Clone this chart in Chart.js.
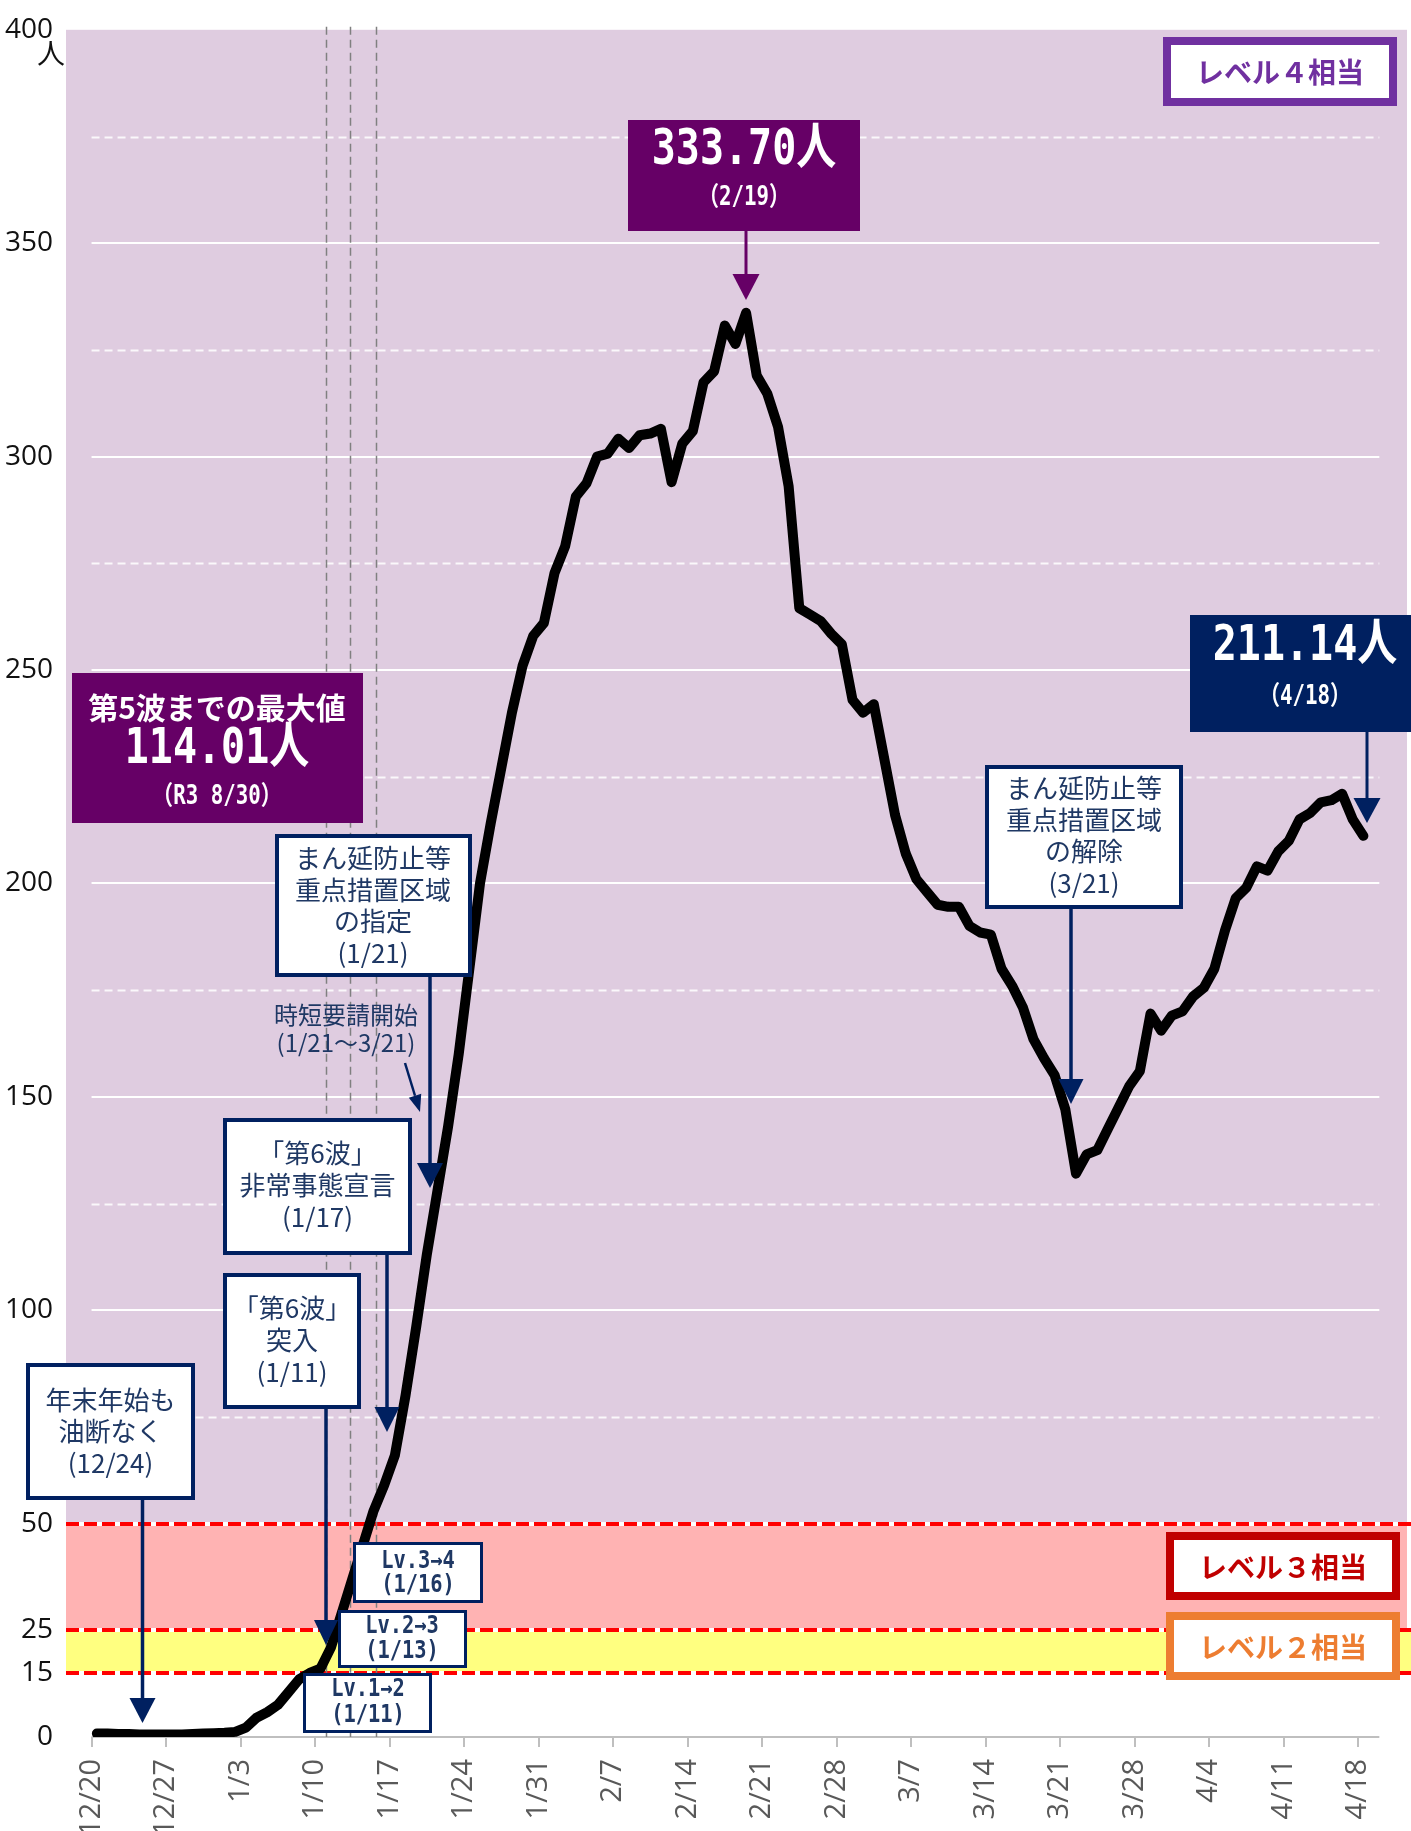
<!DOCTYPE html>
<html lang="ja">
<head>
<meta charset="utf-8">
<script src="https://cdn.jsdelivr.net/npm/chart.js@4.4.1/dist/chart.umd.min.js"></script>
<style>
  html, body { margin: 0; padding: 0; background: #fff; }
  canvas { display: block; }
</style>
</head>
<body>
<canvas id="c" width="1411" height="1831"></canvas>
<script>
// ---- Data (daily values from 12/20 to 4/18, one per day) ----
const startLabel = "12/20";
const tickLabels = ["12/20","12/27","1/3","1/10","1/17","1/24","1/31","2/7","2/14","2/21","2/28","3/7","3/14","3/21","3/28","4/4","4/11","4/18"];
const tickDayIndex = [0,7,14,21,28,35,42,49,56,63,70,77,84,91,98,105,112,119];
const values = [
  0.8,0.8,0.7,0.7,0.6,0.6,0.6,0.6,0.6,0.7,0.8,0.9,1.0,1.2,
  2.2,4.5,5.8,7.5,10.5,13.5,15.0,16.0,21.0,29.0,
  37.0,45.0,53.0,59.0,66.0,80,96,113,128,143,
  160,180,200,214,227,240,251,258,261,272.7,
  279,290.6,293.7,300,300.7,304.2,302,305,305.4,306.5,
  294,303,306,317.4,320,330.7,326.4,333.7,319,314.7,
  307,293,264.5,263,261.5,258.5,256,243,240,242,
  229,216,207,201,198,195,194.5,194.5,190,188.5,
  188,180,176,171,163.5,159,155,147,132,136.5,
  137.5,142.5,147.5,152.5,156,169.5,165.5,169,170,173.5,
  175.5,180,189,196.5,199,204,203,207.5,210,215,
  216.5,219,219.5,221,215,211.14
];
const yTickValues = [0,15,25,50,100,150,200,250,300,350,400];
const solidGrid = [50,100,150,200,250,300,350];
const dashedGrid = [25,75,125,175,225,275,325,375];
const levelLines = [15,25,50];
const levelChangeMarks = [22, 24.25, 26.75]; // 1/11, 1/13, 1/16 vertical guides

const X_MIN = -2.4, X_MAX = 123.6, AXIS_END = 121;

const points = values.map((v, i) => ({ x: i + 0.5, y: v }));

// ---- helpers ----
function txt(ctx, s, cx, cy, font, color, sx) {
  ctx.save();
  ctx.translate(cx, cy);
  ctx.scale(sx || 1, 1);
  ctx.font = font;
  ctx.fillStyle = color;
  ctx.textAlign = 'center';
  ctx.textBaseline = 'middle';
  ctx.fillText(s, 0, 0);
  ctx.restore();
}
function box(ctx, x0, y0, x1, y1, fill, stroke, lw) {
  ctx.save();
  ctx.fillStyle = fill;
  ctx.fillRect(x0, y0, x1 - x0, y1 - y0);
  if (stroke) {
    ctx.lineWidth = lw;
    ctx.strokeStyle = stroke;
    ctx.strokeRect(x0 + lw / 2, y0 + lw / 2, x1 - x0 - lw, y1 - y0 - lw);
  }
  ctx.restore();
}
function downArrow(ctx, x, y0, y1, color, lw, hw, hh) {
  ctx.save();
  ctx.strokeStyle = color; ctx.fillStyle = color; ctx.lineWidth = lw;
  ctx.beginPath(); ctx.moveTo(x, y0); ctx.lineTo(x, y1 - hh + 1); ctx.stroke();
  ctx.beginPath(); ctx.moveTo(x - hw / 2, y1 - hh); ctx.lineTo(x + hw / 2, y1 - hh); ctx.lineTo(x, y1); ctx.closePath(); ctx.fill();
  ctx.restore();
}
function slantArrow(ctx, x0, y0, x1, y1, color, lw, hw, hh) {
  ctx.save();
  const ang = Math.atan2(y1 - y0, x1 - x0);
  const bx = x1 - Math.cos(ang) * hh, by = y1 - Math.sin(ang) * hh;
  ctx.strokeStyle = color; ctx.fillStyle = color; ctx.lineWidth = lw;
  ctx.beginPath(); ctx.moveTo(x0, y0); ctx.lineTo(bx, by); ctx.stroke();
  const px = -Math.sin(ang) * hw / 2, py = Math.cos(ang) * hw / 2;
  ctx.beginPath(); ctx.moveTo(bx + px, by + py); ctx.lineTo(bx - px, by - py); ctx.lineTo(x1, y1); ctx.closePath(); ctx.fill();
  ctx.restore();
}

const NAVY = '#002060';
const NAVY_TXT = '#1F3864';
const PURPLE_BOX = '#660066';
const JP = "'Noto Sans CJK JP', 'Noto Sans', sans-serif";
const MONO = "'DejaVu Sans Mono', 'Noto Sans CJK JP', monospace";

// ---- background plugin: bands, grid, level lines ----
const bgPlugin = {
  id: 'bg',
  beforeDatasetsDraw(chart) {
    const { ctx, chartArea: a, scales: { x, y } } = chart;
    const W = chart.width;
    ctx.save();
    const band = (v0, v1, color, right) => {
      const t = y.getPixelForValue(v1), b = y.getPixelForValue(v0);
      ctx.fillStyle = color;
      ctx.fillRect(a.left, t, right - a.left, b - t);
    };
    band(50, 400, '#DFCCE0', a.right);
    band(25, 50, '#FFB3B3', a.right);
    band(15, 25, '#FFFF80', W);

    const gx0 = x.getPixelForValue(0), gx1 = x.getPixelForValue(AXIS_END);
    // dashed grid
    ctx.lineWidth = 2;
    ctx.strokeStyle = 'rgba(255,255,255,0.85)';
    ctx.setLineDash([8, 5]);
    dashedGrid.forEach(v => {
      const py = Math.round(y.getPixelForValue(v)) + 0.5;
      ctx.beginPath(); ctx.moveTo(gx0, py); ctx.lineTo(gx1, py); ctx.stroke();
    });
    // solid grid
    ctx.setLineDash([]);
    ctx.strokeStyle = '#FFFFFF';
    solidGrid.forEach(v => {
      const py = Math.round(y.getPixelForValue(v));
      ctx.beginPath(); ctx.moveTo(gx0, py); ctx.lineTo(gx1, py); ctx.stroke();
    });
    // axis line at 0
    ctx.strokeStyle = '#BFBFBF';
    const p0 = Math.round(y.getPixelForValue(0));
    ctx.beginPath(); ctx.moveTo(gx0, p0); ctx.lineTo(gx1, p0); ctx.stroke();

    // level lines (white under red dashed)
    levelLines.forEach(v => {
      const py = Math.round(y.getPixelForValue(v));
      ctx.setLineDash([]);
      ctx.strokeStyle = '#FFFFFF'; ctx.lineWidth = 4;
      ctx.beginPath(); ctx.moveTo(a.left, py); ctx.lineTo(W, py); ctx.stroke();
      ctx.setLineDash([13, 5]);
      ctx.strokeStyle = '#FF0000';
      ctx.beginPath(); ctx.moveTo(a.left, py); ctx.lineTo(W, py); ctx.stroke();
    });

    // vertical gray dashed guides
    ctx.setLineDash([8, 5]);
    ctx.strokeStyle = '#808080'; ctx.lineWidth = 1.5;
    levelChangeMarks.forEach(u => {
      const px = Math.round(x.getPixelForValue(u)) + 0.5;
      ctx.beginPath(); ctx.moveTo(px, a.top - 3); ctx.lineTo(px, p0); ctx.stroke();
    });
    ctx.restore();
  }
};

// ---- annotation plugin ----
const annPlugin = {
  id: 'ann',
  afterDatasetsDraw(chart) {
    const ctx = chart.ctx;
    ctx.save();
    // unit label
    txt(ctx, '人', 51, 53, `28px ${JP}`, '#111', 1);

    // Level boxes
    box(ctx, 1163, 37, 1397, 106, '#FFFFFF', '#7030A0', 8);
    txt(ctx, 'レベル４相当', 1280, 72, `bold 28px ${JP}`, '#7030A0', 1);
    box(ctx, 1166, 1532, 1400, 1600, '#FFFFFF', '#C00000', 8);
    txt(ctx, 'レベル３相当', 1283, 1567, `bold 28px ${JP}`, '#C00000', 1);
    box(ctx, 1166, 1612, 1400, 1680, '#FFFFFF', '#ED7D31', 8);
    txt(ctx, 'レベル２相当', 1283, 1647, `bold 28px ${JP}`, '#ED7D31', 1);

    // Peak box 333.70
    box(ctx, 628, 120, 860, 231, PURPLE_BOX);
    txt(ctx, '333.70人', 744, 151, `bold 50px ${MONO}`, '#FFFFFF', 0.8);
    txt(ctx, '（2/19）', 744, 198, `bold 26px ${MONO}`, '#FFFFFF', 0.8);
    downArrow(ctx, 746, 231, 300, PURPLE_BOX, 3, 27, 26);

    // Latest box 211.14
    box(ctx, 1190, 615, 1411, 732, NAVY);
    txt(ctx, '211.14人', 1305, 647, `bold 50px ${MONO}`, '#FFFFFF', 0.8);
    txt(ctx, '（4/18）', 1305, 697, `bold 26px ${MONO}`, '#FFFFFF', 0.8);
    downArrow(ctx, 1367, 732, 823, NAVY, 3, 27, 25);

    // 5th wave max box
    box(ctx, 72, 673, 363, 823, PURPLE_BOX);
    txt(ctx, '第5波までの最大値', 217, 708, `bold 30px ${JP}`, '#FFFFFF', 1);
    txt(ctx, '114.01人', 217, 750, `bold 50px ${MONO}`, '#FFFFFF', 0.8);
    txt(ctx, '（R3 8/30）', 217, 797, `bold 26px ${MONO}`, '#FFFFFF', 0.8);

    const f26 = `26px ${JP}`;
    // まん延防止等 指定
    box(ctx, 275, 834, 472, 977, '#FFFFFF', NAVY, 4);
    ['まん延防止等', '重点措置区域', 'の指定', '(1/21)'].forEach((s, k) =>
      txt(ctx, s, 373, 858 + k * 31.7, f26, NAVY_TXT, 1));
    downArrow(ctx, 430, 977, 1188, NAVY, 3.5, 26, 25);

    // 時短要請開始
    txt(ctx, '時短要請開始', 346, 1015, `24px ${JP}`, NAVY_TXT, 1);
    txt(ctx, '(1/21～3/21)', 346, 1043, `24px ${JP}`, NAVY_TXT, 1);
    slantArrow(ctx, 405, 1063, 420, 1112, NAVY, 2.5, 13, 17);

    // 第6波 非常事態宣言
    box(ctx, 223, 1118, 412, 1255, '#FFFFFF', NAVY, 4);
    ['「第6波」', '非常事態宣言', '(1/17)'].forEach((s, k) =>
      txt(ctx, s, 317.5, 1153 + k * 32, f26, NAVY_TXT, 1));
    downArrow(ctx, 387, 1255, 1432, NAVY, 3.5, 25, 25);

    // 第6波 突入
    box(ctx, 223, 1273, 361, 1409, '#FFFFFF', NAVY, 4);
    ['「第6波」', '突入', '(1/11)'].forEach((s, k) =>
      txt(ctx, s, 292, 1308 + k * 32, f26, NAVY_TXT, 1));
    downArrow(ctx, 326, 1409, 1645, NAVY, 3.5, 24, 25);

    // 年末年始も油断なく
    box(ctx, 26, 1363, 195, 1500, '#FFFFFF', NAVY, 4);
    ['年末年始も', '油断なく', '(12/24)'].forEach((s, k) =>
      txt(ctx, s, 110.5, 1400 + k * 31.5, f26, NAVY_TXT, 1));
    downArrow(ctx, 142.5, 1500, 1723, NAVY, 3.5, 26, 25);

    // まん延防止等 解除
    box(ctx, 985, 765, 1183, 909, '#FFFFFF', NAVY, 4);
    ['まん延防止等', '重点措置区域', 'の解除', '(3/21)'].forEach((s, k) =>
      txt(ctx, s, 1084, 788 + k * 31.7, f26, NAVY_TXT, 1));
    downArrow(ctx, 1071, 909, 1104, NAVY, 3.5, 25, 25);

    // Lv boxes
    const lvFont = `bold 24px ${MONO}`;
    box(ctx, 353, 1542, 483, 1603, '#FFFFFF', NAVY, 3);
    txt(ctx, 'Lv.3→4', 418, 1562, lvFont, NAVY_TXT, 0.85);
    txt(ctx, '(1/16)', 418, 1586, lvFont, NAVY_TXT, 0.85);
    box(ctx, 338, 1610, 467, 1668, '#FFFFFF', NAVY, 3);
    txt(ctx, 'Lv.2→3', 402, 1627, lvFont, NAVY_TXT, 0.85);
    txt(ctx, '(1/13)', 402, 1652, lvFont, NAVY_TXT, 0.85);
    box(ctx, 303, 1673, 432, 1733, '#FFFFFF', NAVY, 3);
    txt(ctx, 'Lv.1→2', 368, 1690, lvFont, NAVY_TXT, 0.85);
    txt(ctx, '(1/11)', 368, 1716, lvFont, NAVY_TXT, 0.85);

    ctx.restore();
  }
};

new Chart(document.getElementById('c').getContext('2d'), {
  type: 'line',
  data: {
    datasets: [{
      data: points,
      borderColor: '#000000',
      borderWidth: 10,
      pointRadius: 0,
      tension: 0,
      fill: false,
      borderJoinStyle: 'round',
      borderCapStyle: 'round'
    }]
  },
  options: {
    responsive: false,
    animation: false,
    devicePixelRatio: 1,
    layout: { padding: { top: 25, right: 4, left: 0, bottom: 0 } },
    plugins: { legend: { display: false }, tooltip: { enabled: false } },
    scales: {
      x: {
        type: 'linear',
        min: X_MIN,
        max: X_MAX,
        afterBuildTicks: s => { s.ticks = tickDayIndex.map(v => ({ value: v })); },
        afterFit: s => { s.height = 94; },
        ticks: {
          autoSkip: false,
          maxRotation: 90,
          minRotation: 90,
          padding: 12,
          color: '#595959',
          font: { family: "'Open Sans', sans-serif", size: 29 },
          callback: (v, i) => tickLabels[i]
        },
        grid: { drawOnChartArea: false, drawTicks: true, tickLength: 10, color: '#BFBFBF', lineWidth: 2 },
        border: { display: false }
      },
      y: {
        min: 0,
        max: 400,
        afterBuildTicks: s => { s.ticks = yTickValues.map(v => ({ value: v })); },
        afterFit: s => { s.width = 66; },
        ticks: {
          padding: 13,
          color: '#111111',
          font: { family: "'Open Sans', sans-serif", size: 28 }
        },
        grid: { display: false, drawTicks: false },
        border: { display: false }
      }
    }
  },
  plugins: [bgPlugin, annPlugin]
});
</script>
</body>
</html>
